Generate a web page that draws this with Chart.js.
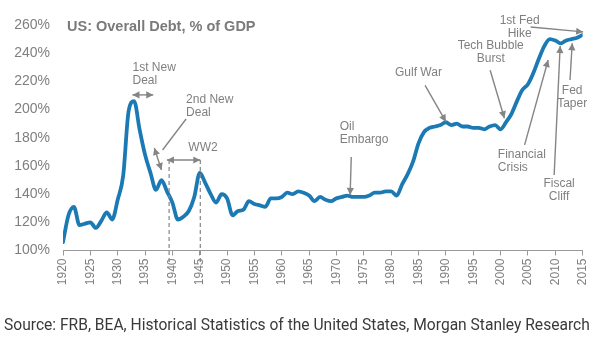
<!DOCTYPE html>
<html>
<head>
<meta charset="utf-8">
<script src="https://cdn.jsdelivr.net/npm/chart.js@4/dist/chart.umd.min.js"></script>
<style>
  html, body { margin: 0; padding: 0; background: #fff; }
  #wrap { position: relative; width: 600px; height: 337px; }
</style>
</head>
<body>
<div id="wrap"><canvas id="grafico" width="600" height="337"></canvas></div>
<script>
// datos
const anios = [];
for (let a = 1920; a <= 2015; a++) anios.push(a);
const deudaPct = [
  106, 125, 131, 118, 119, 120, 116, 121, 127, 122,
  136, 153, 199, 206, 186, 168, 155, 143, 150, 142,
  134, 122, 124, 128, 138, 155, 148, 140, 134, 140,
  137, 125, 128, 129, 135, 133, 132, 131, 137, 137,
  138, 141, 140, 142, 141, 139, 135, 138, 136, 135,
  137, 138, 139, 138, 138, 138, 139, 141, 141, 142,
  142, 139, 147, 154, 163, 176, 184, 187, 188, 189,
  191, 189, 190, 188, 188, 187, 187, 186, 188, 189,
  186, 191, 197, 206, 214, 218, 226, 236, 245, 250,
  249, 247, 249, 250, 251, 253
];
const ticksY = [100, 120, 140, 160, 180, 200, 220, 240, 260];
const ticksX = [1920, 1925, 1930, 1935, 1940, 1945, 1950, 1955, 1960, 1965, 1970, 1975, 1980, 1985, 1990, 1995, 2000, 2005, 2010, 2015];

const titulo = 'US: Overall Debt, % of GDP';
const fuente = 'Source: FRB, BEA, Historical Statistics of the United States, Morgan Stanley Research';

// notas: texto (anio, valor de la primera linea), flechas [anio, valor] -> [anio, valor]
const notas = [
  { lineas: ['1st New', 'Deal'], x: 1932.7, y: 229.5, alin: 'left' },
  { lineas: ['2nd New', 'Deal'], x: 1942.5, y: 206.8, alin: 'left' },
  { lineas: ['WW2'], x: 1945.6, y: 172.7, alin: 'center' },
  { lineas: ['Oil', 'Embargo'], x: 1970.6, y: 187.9, alin: 'left' },
  { lineas: ['Gulf War'], x: 1980.7, y: 226.2, alin: 'left' },
  { lineas: ['Tech Bubble', 'Burst'], x: 1998.2, y: 245.4, alin: 'center' },
  { lineas: ['1st Fed', 'Hike'], x: 2003.5, y: 263.1, alin: 'center' },
  { lineas: ['Financial', 'Crisis'], x: 1999.5, y: 167.8, alin: 'left' },
  { lineas: ['Fiscal', 'Cliff'], x: 2010.7, y: 147.7, alin: 'center' },
  { lineas: ['Fed', 'Taper'], x: 2013.1, y: 213.4, alin: 'center' }
];
const flechas = [
  { de: [1932.7, 210.4], a: [1936.5, 210.4], doble: true },
  { de: [1936.7, 172.7], a: [1938.0, 157.1], doble: true },
  { de: [1942.5, 193.3], a: [1938.2, 171.3], sinPunta: true },
  { de: [1939.0, 164.2], a: [1945.1, 164.2], doble: true },
  { de: [1972.7, 166.4], a: [1972.5, 139.4] },
  { de: [1986.2, 217.2], a: [1990.0, 191.4] },
  { de: [1998.1, 227.9], a: [2000.7, 193.8] },
  { de: [2005.5, 258.6], a: [2015.1, 255.1] },
  { de: [2004.4, 174.9], a: [2008.7, 235.2] },
  { de: [2009.8, 153.6], a: [2010.9, 245.1] },
  { de: [2012.7, 221.0], a: [2013.1, 247.0] }
];
const guiasWW2 = [1939.4, 1945.1];
const guiaTope = 164.2;

const GRIS = '#858585';

function punta(ctx, x0, y0, x1, y1) {
  const ang = Math.atan2(y1 - y0, x1 - x0), L = 7, W = 3.6;
  ctx.beginPath();
  ctx.moveTo(x1, y1);
  ctx.lineTo(x1 - L * Math.cos(ang) + W * Math.sin(ang), y1 - L * Math.sin(ang) - W * Math.cos(ang));
  ctx.lineTo(x1 - L * Math.cos(ang) - W * Math.sin(ang), y1 - L * Math.sin(ang) + W * Math.cos(ang));
  ctx.closePath();
  ctx.fill();
}

const pluginNotas = {
  id: 'notas',
  afterDatasetsDraw(chart) {
    const { ctx, scales: { x, y }, chartArea } = chart;
    ctx.save();
    // lineas punteadas WW2
    ctx.strokeStyle = GRIS;
    ctx.lineWidth = 1.2;
    ctx.setLineDash([4, 3]);
    guiasWW2.forEach(a => {
      const px = x.getPixelForValue(a);
      ctx.beginPath();
      ctx.moveTo(px, y.getPixelForValue(guiaTope));
      ctx.lineTo(px, chartArea.bottom + 12);
      ctx.stroke();
    });
    ctx.setLineDash([]);
    // flechas
    ctx.fillStyle = GRIS;
    ctx.lineWidth = 1.4;
    flechas.forEach(f => {
      const x0 = x.getPixelForValue(f.de[0]), y0 = y.getPixelForValue(f.de[1]);
      const x1 = x.getPixelForValue(f.a[0]), y1 = y.getPixelForValue(f.a[1]);
      ctx.beginPath();
      ctx.moveTo(x0, y0);
      ctx.lineTo(x1, y1);
      ctx.stroke();
      if (!f.sinPunta) punta(ctx, x0, y0, x1, y1);
      if (f.doble) punta(ctx, x1, y1, x0, y0);
    });
    // textos
    ctx.fillStyle = '#7f7f7f';
    ctx.font = '12px "Liberation Sans", Arial, sans-serif';
    ctx.textBaseline = 'middle';
    notas.forEach(n => {
      ctx.textAlign = n.alin;
      const px = x.getPixelForValue(n.x), py = y.getPixelForValue(n.y);
      n.lineas.forEach((t, i) => ctx.fillText(t, px, py + i * 13));
    });
    ctx.restore();
  },
  afterDraw(chart) {
    const { ctx, chartArea } = chart;
    ctx.save();
    ctx.fillStyle = '#7a7a7a';
    ctx.font = 'bold 14.5px "Liberation Sans", Arial, sans-serif';
    ctx.textBaseline = 'alphabetic';
    ctx.textAlign = 'left';
    ctx.fillText(titulo, chartArea.left + 4, chartArea.top + 5.5);
    // fuente ajustada al ancho del original
    ctx.fillStyle = '#3a3a3a';
    ctx.font = '14px Roboto, sans-serif';
    const tam = Math.min(16, 14 * 586 / ctx.measureText(fuente).width);
    ctx.font = tam.toFixed(2) + 'px Roboto, sans-serif';
    ctx.fillText(fuente, 4, 330, 586);
    ctx.restore();
  }
};

new Chart(document.getElementById('grafico'), {
  type: 'line',
  data: {
    datasets: [{
      data: anios.map((a, i) => ({ x: a, y: deudaPct[i] })),
      borderColor: '#1b7ab4',
      borderWidth: 3.8,
      pointRadius: 0,
      fill: false,
      cubicInterpolationMode: 'monotone',
      borderJoinStyle: 'round',
      borderCapStyle: 'round'
    }]
  },
  options: {
    responsive: false,
    animation: false,
    devicePixelRatio: 1,
    layout: { padding: { left: 0, right: 14.5, top: 25, bottom: 46.5 } },
    plugins: { legend: { display: false }, tooltip: { enabled: false } },
    scales: {
      x: {
        type: 'linear',
        min: ticksX[0],
        max: ticksX[ticksX.length - 1],
        afterBuildTicks: s => { s.ticks = ticksX.map(v => ({ value: v })); },
        afterFit: s => { s.height = 40; },
        grid: { drawOnChartArea: false, drawTicks: true, tickLength: 5, color: '#9a9a9a' },
        border: { display: true, color: '#9a9a9a', width: 1 },
        ticks: {
          autoSkip: false, maxRotation: 90, minRotation: 90, padding: 3,
          color: '#7f7f7f',
          font: { family: '"Liberation Sans", Arial, sans-serif', size: 12 },
          callback: v => String(v)
        }
      },
      y: {
        min: ticksY[0],
        max: ticksY[ticksY.length - 1],
        afterBuildTicks: s => { s.ticks = ticksY.map(v => ({ value: v })); },
        afterFit: s => { s.width = 63; },
        grid: { display: false, drawTicks: false },
        border: { display: false },
        ticks: {
          padding: 13,
          color: '#7f7f7f',
          font: { family: '"Liberation Sans", Arial, sans-serif', size: 14 },
          callback: v => v + '%'
        }
      }
    }
  },
  plugins: [pluginNotas]
});
</script>
</body>
</html>
